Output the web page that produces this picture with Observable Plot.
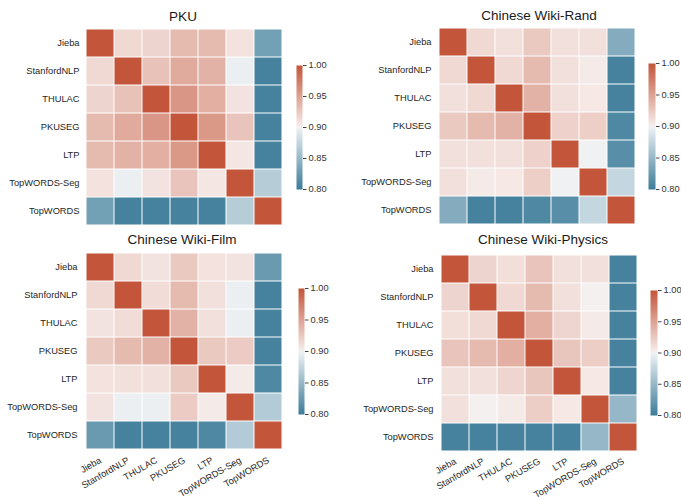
<!DOCTYPE html>
<html>
<head>
<meta charset="utf-8">
<script src="https://cdn.jsdelivr.net/npm/d3@7"></script>
<script src="https://cdn.jsdelivr.net/npm/@observablehq/plot@0.6"></script>
<style>
  body { margin: 0; background: #fff; }
  #root { position: relative; width: 681px; height: 497px; overflow: hidden; font-family: "Liberation Sans", Arial, sans-serif; }
  #root svg { position: absolute; left: 0; top: 0; max-width: none; }
  .title { position: absolute; font-size: 13.5px; line-height: 13.5px; color: #1a1a1a; white-space: nowrap; transform: translateX(-50%); }
</style>
</head>
<body>
<div id="root"></div>
<script>
// ---- data ----
const methods = ["Jieba", "StanfordNLP", "THULAC", "PKUSEG", "LTP", "TopWORDS-Seg", "TopWORDS"];
const panelTitles = ["PKU", "Chinese Wiki-Rand", "Chinese Wiki-Film", "Chinese Wiki-Physics"];

const pkuMatrix = [
  [1.000, 0.915, 0.918, 0.935, 0.935, 0.909, 0.830],
  [0.915, 1.000, 0.930, 0.945, 0.940, 0.897, 0.805],
  [0.918, 0.930, 1.000, 0.958, 0.942, 0.908, 0.805],
  [0.935, 0.945, 0.958, 1.000, 0.957, 0.928, 0.805],
  [0.935, 0.940, 0.942, 0.957, 1.000, 0.906, 0.805],
  [0.909, 0.897, 0.908, 0.928, 0.906, 1.000, 0.868],
  [0.830, 0.805, 0.805, 0.805, 0.805, 0.868, 1.000]
];
const randMatrix = [
  [1.000, 0.915, 0.910, 0.925, 0.910, 0.910, 0.840],
  [0.915, 1.000, 0.915, 0.935, 0.910, 0.904, 0.805],
  [0.910, 0.915, 1.000, 0.940, 0.910, 0.905, 0.805],
  [0.925, 0.935, 0.940, 1.000, 0.920, 0.921, 0.810],
  [0.910, 0.910, 0.910, 0.920, 1.000, 0.899, 0.815],
  [0.910, 0.904, 0.905, 0.921, 0.899, 1.000, 0.876],
  [0.840, 0.805, 0.805, 0.810, 0.815, 0.876, 1.000]
];
const filmMatrix = [
  [1.000, 0.915, 0.908, 0.925, 0.909, 0.908, 0.825],
  [0.915, 1.000, 0.913, 0.935, 0.910, 0.897, 0.805],
  [0.908, 0.913, 1.000, 0.940, 0.910, 0.897, 0.805],
  [0.925, 0.935, 0.940, 1.000, 0.925, 0.924, 0.805],
  [0.909, 0.910, 0.910, 0.925, 1.000, 0.904, 0.810],
  [0.908, 0.897, 0.897, 0.924, 0.904, 1.000, 0.866],
  [0.825, 0.805, 0.805, 0.805, 0.810, 0.866, 1.000]
];
const physicsMatrix = [
  [1.000, 0.918, 0.911, 0.928, 0.910, 0.910, 0.805],
  [0.918, 1.000, 0.915, 0.935, 0.910, 0.901, 0.805],
  [0.911, 0.915, 1.000, 0.942, 0.917, 0.904, 0.805],
  [0.928, 0.935, 0.942, 1.000, 0.927, 0.922, 0.805],
  [0.910, 0.910, 0.917, 0.927, 1.000, 0.905, 0.805],
  [0.910, 0.901, 0.904, 0.922, 0.905, 1.000, 0.850],
  [0.805, 0.805, 0.805, 0.805, 0.805, 0.850, 1.000]
];
const colorbarTicks = [0.80, 0.85, 0.90, 0.95, 1.00];

// ---- styling / layout ----
const colorScale = {
  type: "linear",
  domain: [0.80, 0.895, 0.90, 0.905, 1.00],
  range: ["#3d7c99", "#e6edf1", "#f2f2f2", "#f5e8e5", "#c3553a"],
  interpolate: "rgb",
  clamp: true
};
const W = 681, H = 497;
const font = "'Liberation Sans', Arial, sans-serif";
const panels = [
  {matrix: pkuMatrix, title: panelTitles[0], heat: [85, 28, 283, 225], bar: [296, 65, 302, 189], titleX: 183, titleTop: 9.6, showX: false},
  {matrix: randMatrix, title: panelTitles[1], heat: [437, 25, 636, 226], bar: [648, 63, 655, 189], titleX: 539, titleTop: 8.6, showX: false},
  {matrix: filmMatrix, title: panelTitles[2], heat: [83, 250, 285, 451], bar: [298, 288, 304, 414], titleX: 182, titleTop: 233, showX: true},
  {matrix: physicsMatrix, title: panelTitles[3], heat: [439, 253, 638, 452], bar: [650, 290, 657, 415], titleX: 543, titleTop: 232.6, showX: true}
];

const root = document.getElementById("root");

for (const p of panels) {
  const cells = [];
  p.matrix.forEach((row, i) => row.forEach((v, j) => cells.push({row: methods[i], col: methods[j], value: v})));
  const [x0, y0, x1, y1] = p.heat;
  const marks = [
    Plot.cell(cells, {x: "col", y: "row", fill: "value", inset: 0.5}),
    Plot.axisY({tickSize: 0, tickPadding: 6, label: null, fill: "#262626"})
  ];
  if (p.showX) {
    marks.push(Plot.axisX({tickSize: 0, tickPadding: 8, tickRotate: -30, textAnchor: "end", label: null, fill: "#262626"}));
  }
  const heat = Plot.plot({
    width: W, height: H,
    marginLeft: x0, marginRight: W - x1, marginTop: y0, marginBottom: H - y1,
    x: {domain: methods, padding: 0, axis: null},
    y: {domain: methods, padding: 0, axis: null},
    color: colorScale,
    style: {fontSize: "9.3px", fontFamily: font, background: "transparent", overflow: "visible"},
    marks
  });
  root.appendChild(heat);

  const [b0, c0, b1, c1] = p.bar;
  const bar = Plot.plot({
    width: W, height: H,
    marginLeft: b0, marginRight: W - b1, marginTop: c0, marginBottom: H - c1,
    x: {domain: [0, 1], axis: null},
    y: {domain: [0.80, 1.00], axis: null},
    color: colorScale,
    style: {fontSize: "9.3px", fontFamily: font, background: "transparent", overflow: "visible"},
    marks: [
      Plot.raster({fill: (x, y) => y, x1: 0, x2: 1, y1: 0.80, y2: 1.00, pixelSize: 1}),
      Plot.axisY({anchor: "right", ticks: colorbarTicks, tickFormat: d3.format(".2f"), tickSize: 3.5, tickPadding: 2.5, label: null, stroke: "#444", fill: "#333"})
    ]
  });
  root.appendChild(bar);

  const t = document.createElement("div");
  t.className = "title";
  t.textContent = p.title;
  t.style.left = p.titleX + "px";
  t.style.top = p.titleTop + "px";
  root.appendChild(t);
}
</script>
</body>
</html>
